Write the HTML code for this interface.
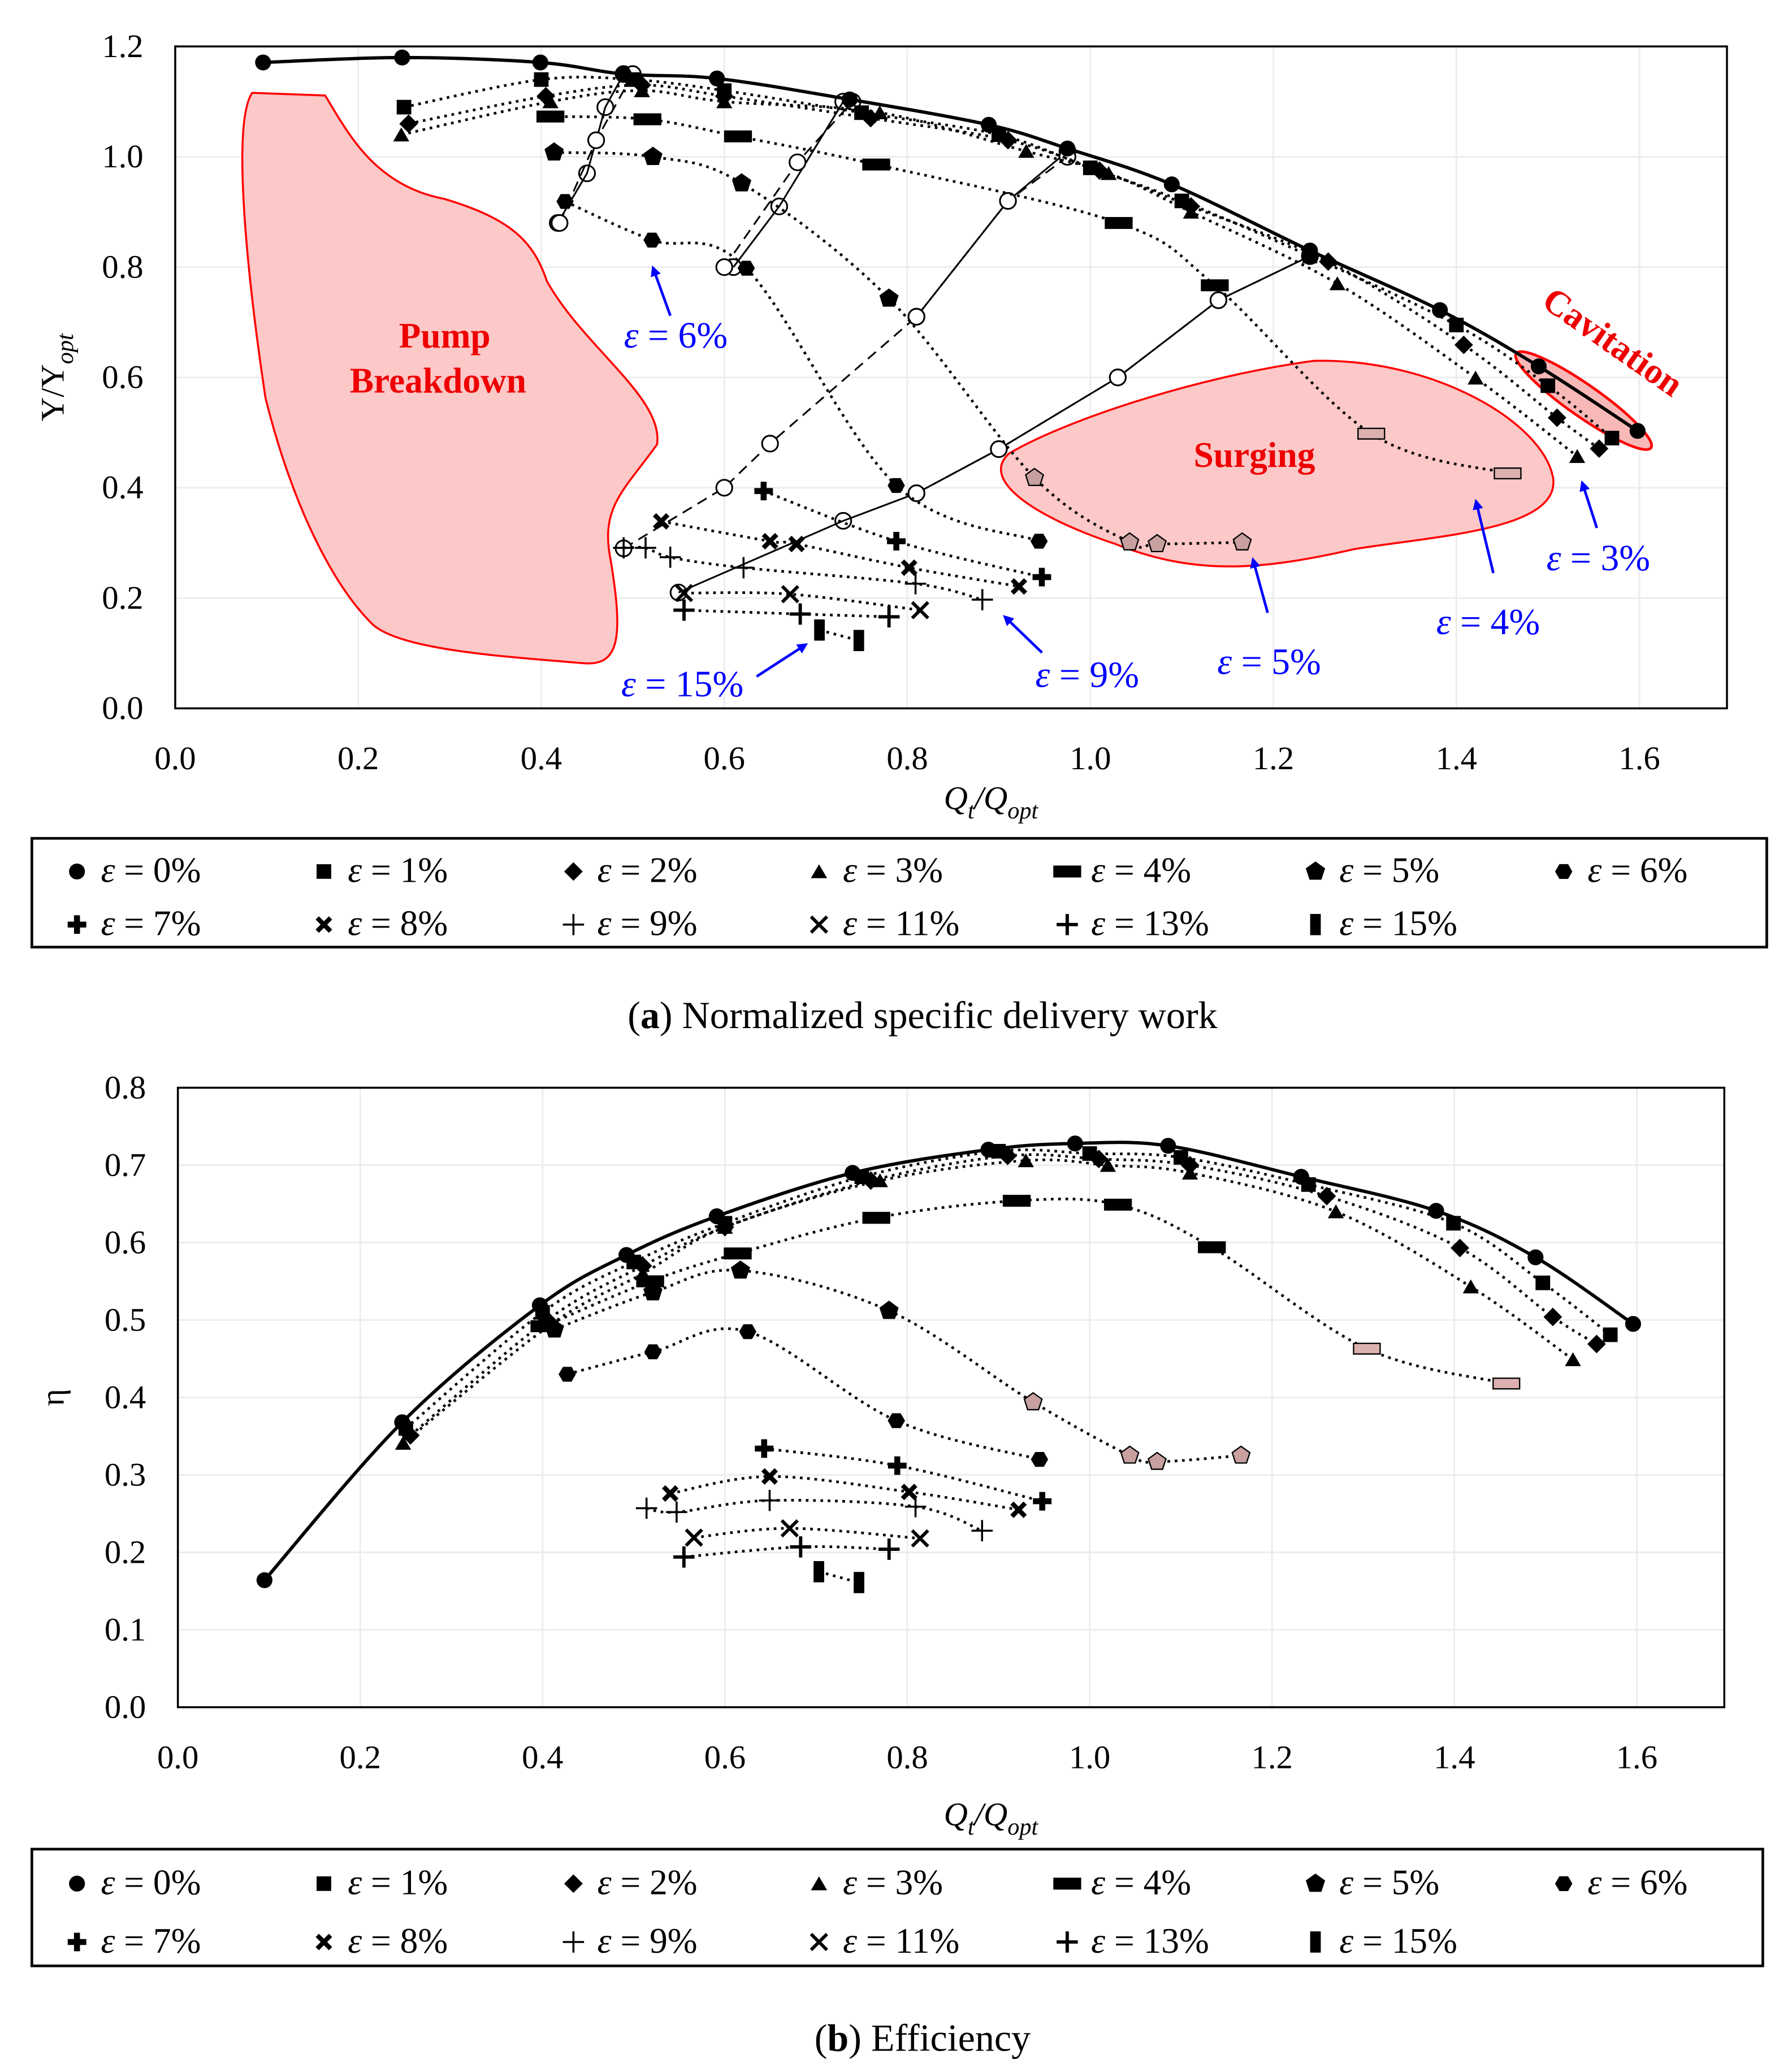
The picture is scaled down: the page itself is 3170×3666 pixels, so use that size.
<!DOCTYPE html>
<html><head><meta charset="utf-8">
<style>
html,body{margin:0;padding:0;background:#fff;}
svg{display:block;}
text{font-family:"Liberation Serif",serif;}
</style></head>
<body>
<svg id="chart" width="3170" height="3666" viewBox="0 0 1350 1562" preserveAspectRatio="none" xmlns="http://www.w3.org/2000/svg">
<rect x="0" y="0" width="1350" height="1562" fill="#fff"/>
<g id="grid"></g>
<path d="M190,70 L245,72 C262,100 282,140 335,150 C385,165 402,182 412,212 C440,262 500,300 495,335 C470,370 452,382 460,422 C470,482 466,502 440,500 C380,495 300,490 280,470 C250,440 220,380 200,300 C185,200 175,92 190,70 Z" fill="#fcc8c8" stroke="#f00" stroke-width="1.5"/>
<path d="M760,342 C800,318 900,284 990,272 C1080,270 1162,318 1170,360 C1176,400 1080,404 1020,414 C950,430 900,434 840,410 C780,390 738,362 760,342 Z" fill="#fcc8c8" stroke="#f00" stroke-width="1.5"/>
<ellipse cx="1193" cy="302" rx="62" ry="12" transform="rotate(35 1193 302)" fill="#f8b8b8" stroke="#f00" stroke-width="2"/>
<g id="topchart"></g>
<g id="botchart"></g>
<g id="ann"></g>
</svg>
<script>
const seriesNames = ['ε = 0%','ε = 1%','ε = 2%','ε = 3%','ε = 4%','ε = 5%','ε = 6%','ε = 7%','ε = 8%','ε = 9%','ε = 11%','ε = 13%','ε = 15%'];
const seriesMarkers = ['circle','square','diamond','triangle','wide','pentagon','hexagon','boldplus','boldx','thinplus','x','plus','vbar'];
const xTicks = [0.0,0.2,0.4,0.6,0.8,1.0,1.2,1.4,1.6];
const yTicksTop = [0.0,0.2,0.4,0.6,0.8,1.0,1.2];
const yTicksBot = [0.0,0.1,0.2,0.3,0.4,0.5,0.6,0.7,0.8];

const topX0=[0.096,0.248,0.399,0.49,0.592,0.737,0.889,0.975,1.089,1.24,1.382,1.490,1.598];
const topY0=[1.171,1.18,1.171,1.15,1.142,1.104,1.058,1.015,0.950,0.83,0.722,0.620,0.503];
const topX1=[0.25,0.40,0.50,0.60,0.75,0.90,1.0,1.1,1.24,1.40,1.50,1.57];
const topY1=[1.09,1.14,1.14,1.12,1.08,1.04,0.98,0.92,0.82,0.695,0.585,0.49];
const topX2=[0.255,0.405,0.51,0.60,0.76,0.91,1.01,1.11,1.26,1.408,1.51,1.556];
const topY2=[1.06,1.11,1.13,1.11,1.07,1.03,0.975,0.91,0.81,0.659,0.527,0.471];
const topX3=[0.247,0.41,0.51,0.60,0.77,0.93,1.02,1.11,1.27,1.421,1.532];
const topY3=[1.04,1.10,1.12,1.10,1.08,1.01,0.97,0.90,0.77,0.599,0.457];
const topX4=[0.41,0.516,0.615,0.766,1.031,1.136,1.307,1.456];
const topY4=[1.073,1.068,1.037,0.986,0.880,0.767,0.498,0.426];
const topX5=[0.414,0.522,0.619,0.78,0.939,1.043,1.073,1.166];
const topY5=[1.008,1.0,0.952,0.743,0.418,0.301,0.298,0.301];
const topX6=[0.426,0.521,0.624,0.788,0.944];
const topY6=[0.919,0.849,0.798,0.404,0.303];
const topX7=[0.643,0.788,0.947];
const topY7=[0.394,0.303,0.238];
const topX8=[0.531,0.65,0.679,0.802,0.922];
const topY8=[0.339,0.303,0.298,0.255,0.221];
const topX9=[0.49,0.514,0.541,0.621,0.809,0.882];
const topY9=[0.291,0.291,0.274,0.255,0.226,0.197];
const topX11=[0.556,0.672,0.814];
const topY11=[0.209,0.207,0.178];
const topX13=[0.556,0.683,0.780];
const topY13=[0.178,0.171,0.166];
const topX15=[0.704,0.747];
const topY15=[0.142,0.123];

const isoSolidX=[[0.418,0.45,0.47,0.49],[0.61,0.66,0.73],[0.81,0.91,0.975],[0.55,0.73,0.81,0.90,1.03,1.14,1.24]];
const isoSolidY=[[0.88,0.97,1.09,1.15],[0.80,0.91,1.10],[0.71,0.92,1.01],[0.21,0.34,0.39,0.47,0.60,0.74,0.82]];
const isoDashX=[[0.42,0.46,0.50],[0.60,0.68,0.74],[0.49,0.60,0.65,0.81,0.91,0.975],[0.81,0.90,1.03,1.14,1.24]];
const isoDashY=[[0.88,1.03,1.15],[0.80,0.99,1.10],[0.29,0.40,0.48,0.71,0.92,1.0],[0.39,0.47,0.60,0.74,0.82]];

const botX0=[0.095,0.246,0.397,0.492,0.591,0.74,0.889,0.984,1.086,1.232,1.380,1.489,1.596];
const botY0=[0.164,0.368,0.519,0.584,0.634,0.69,0.720,0.728,0.725,0.685,0.641,0.581,0.495];
const botX1=[0.25,0.40,0.50,0.60,0.75,0.90,1.0,1.1,1.24,1.399,1.497,1.571];
const botY1=[0.36,0.51,0.575,0.625,0.685,0.718,0.715,0.71,0.675,0.625,0.548,0.481];
const botX2=[0.255,0.405,0.51,0.60,0.76,0.91,1.01,1.11,1.26,1.406,1.508,1.556];
const botY2=[0.351,0.50,0.57,0.62,0.68,0.712,0.708,0.70,0.66,0.593,0.504,0.469];
const botX3=[0.247,0.41,0.51,0.60,0.77,0.93,1.02,1.11,1.27,1.418,1.53];
const botY3=[0.341,0.495,0.56,0.62,0.68,0.706,0.70,0.69,0.64,0.543,0.449];
const botX4=[0.402,0.518,0.614,0.766,0.92,1.031,1.134,1.304,1.457];
const botY4=[0.492,0.550,0.586,0.632,0.654,0.649,0.594,0.463,0.418];
const botX5=[0.413,0.521,0.617,0.780,0.938,1.044,1.074,1.166];
const botY5=[0.488,0.536,0.564,0.512,0.394,0.325,0.317,0.325];
const botX6=[0.427,0.521,0.625,0.788,0.945];
const botY6=[0.430,0.459,0.485,0.370,0.320];
const botX7=[0.643,0.789,0.948];
const botY7=[0.334,0.312,0.266];
const botX8=[0.540,0.649,0.802,0.922];
const botY8=[0.276,0.298,0.278,0.255];
const botX9=[0.514,0.547,0.649,0.809,0.882];
const botY9=[0.257,0.252,0.267,0.259,0.228];
const botX11=[0.566,0.671,0.814];
const botY11=[0.219,0.231,0.218];
const botX13=[0.555,0.683,0.780];
const botY13=[0.194,0.207,0.204];
const botX15=[0.703,0.747];
const botY15=[0.175,0.161];

const topXs=[topX0,topX1,topX2,topX3,topX4,topX5,topX6,topX7,topX8,topX9,topX11,topX13,topX15];
const topYs=[topY0,topY1,topY2,topY3,topY4,topY5,topY6,topY7,topY8,topY9,topY11,topY13,topY15];
const botXs=[botX0,botX1,botX2,botX3,botX4,botX5,botX6,botX7,botX8,botX9,botX11,botX13,botX15];
const botYs=[botY0,botY1,botY2,botY3,botY4,botY5,botY6,botY7,botY8,botY9,botY11,botY13,botY15];

const NS='http://www.w3.org/2000/svg';
function mk(tag,attrs,parent){const e=document.createElementNS(NS,tag);for(const k in attrs)e.setAttribute(k,attrs[k]);parent.appendChild(e);return e;}
function smooth(pts){
  if(pts.length<2)return '';
  let d='M'+pts[0][0]+','+pts[0][1];
  for(let i=0;i<pts.length-1;i++){
    const p0=pts[i-1]||pts[i],p1=pts[i],p2=pts[i+1],p3=pts[i+2]||p2;
    const c1=[p1[0]+(p2[0]-p0[0])/6,p1[1]+(p2[1]-p0[1])/6];
    const c2=[p2[0]-(p3[0]-p1[0])/6,p2[1]-(p3[1]-p1[1])/6];
    d+=' C'+c1[0]+','+c1[1]+' '+c2[0]+','+c2[1]+' '+p2[0]+','+p2[1];
  }
  return d;
}
function poly(n,r,cx,cy,rot){let p=[];for(let i=0;i<n;i++){const a=rot+i*2*Math.PI/n;p.push((cx+r*Math.cos(a)).toFixed(1)+','+(cy+r*Math.sin(a)).toFixed(1));}return p.join(' ');}
function marker(type,cx,cy,g,fill){
  fill=fill||'#000';
  const s=fill==='#000'?'none':'#000';
  let e;
  switch(type){
    case 'circle':e=mk('circle',{cx:cx,cy:cy,r:6,fill:fill,stroke:s},g);break;
    case 'square':e=mk('rect',{x:cx-5.5,y:cy-5.5,width:11,height:11,fill:fill,stroke:s},g);break;
    case 'diamond':e=mk('polygon',{points:poly(4,7,cx,cy,0),fill:fill,stroke:s},g);break;
    case 'triangle':e=mk('polygon',{points:poly(3,7,cx,cy+1.5,-Math.PI/2),fill:fill,stroke:s},g);break;
    case 'wide':e=mk('rect',{x:cx-10,y:cy-4,width:20,height:8,fill:fill,stroke:'#000','stroke-width':1},g);break;
    case 'pentagon':e=mk('polygon',{points:poly(5,7,cx,cy,-Math.PI/2),fill:fill,stroke:'#000'},g);break;
    case 'hexagon':e=mk('polygon',{points:poly(6,6.5,cx,cy,0),fill:fill,stroke:s},g);break;
    case 'boldplus':e=mk('path',{d:`M${cx-7},${cy}H${cx+7}M${cx},${cy-7}V${cy+7}`,stroke:'#000','stroke-width':4.5},g);break;
    case 'boldx':e=mk('path',{d:`M${cx-5},${cy-5}L${cx+5},${cy+5}M${cx-5},${cy+5}L${cx+5},${cy-5}`,stroke:'#000','stroke-width':3.5},g);break;
    case 'thinplus':e=mk('path',{d:`M${cx-8},${cy}H${cx+8}M${cx},${cy-8}V${cy+8}`,stroke:'#000','stroke-width':1.5},g);break;
    case 'x':e=mk('path',{d:`M${cx-6},${cy-6}L${cx+6},${cy+6}M${cx-6},${cy+6}L${cx+6},${cy-6}`,stroke:'#000','stroke-width':2.5},g);break;
    case 'plus':e=mk('path',{d:`M${cx-8},${cy}H${cx+8}M${cx},${cy-8}V${cy+8}`,stroke:'#000','stroke-width':2.5},g);break;
    case 'vbar':e=mk('rect',{x:cx-4,y:cy-8,width:8,height:16,fill:'#000'},g);break;
  }
  return e;
}
const gridG=document.getElementById('grid');
function drawGrid(X,Y,yTicks,x0,x1,y0,y1){
  xTicks.forEach(v=>{const l=mk('line',{x1:X(v),x2:X(v),y1:y0,y2:y1,stroke:'#ececec','stroke-width':1.2},gridG);
    
    });
  yTicks.forEach(v=>{const l=mk('line',{x1:x0,x2:x1,y1:Y(v),y2:Y(v),stroke:'#ececec','stroke-width':1.2},gridG);
    
    });
}
function drawAxes(g,X,Y,yTicks,x0,x1,y0,y1,xlabY,isTop){
  const fr=mk('rect',{x:x0,y:y0,width:x1-x0,height:y1-y0,fill:'none',stroke:'#000','stroke-width':1.5},g);
  
  
  xTicks.forEach(v=>{const t=mk('text',{x:X(v),y:y1+46,'font-size':25,'text-anchor':'middle'},g);t.textContent=v.toFixed(1);
    
    });
  yTicks.forEach(v=>{const t=mk('text',{x:x0-24,y:Y(v)+8,'font-size':25,'text-anchor':'end'},g);t.textContent=v.toFixed(1);
    
    });
  const xl=mk('text',{x:(x0+x1)/2+30,y:xlabY,'font-size':25,'text-anchor':'middle','font-style':'italic'},g);
  xl.innerHTML='Q<tspan font-size="18" dy="7">t</tspan><tspan dy="-7">/Q</tspan><tspan font-size="18" dy="7">opt</tspan>';
  
  
  const cy=(y0+y1)/2;
  const yl=mk('text',{x:48,y:cy,'font-size':25,'text-anchor':'middle',transform:`rotate(-90 48 ${cy})`},g);
  if(isTop) yl.innerHTML='Υ/Υ<tspan font-size="18" dy="7" font-style="italic">opt</tspan>'; else yl.textContent='η';
  
  
}
function drawSeries(g,X,Y,xs,ys){
  xs.forEach((xa,si)=>{
    const sg=mk('g',{},g);
    
    
    const pts=xa.map((v,i)=>[X(v),Y(ys[si][i])]);
    const ln=mk('path',{d:smooth(pts),fill:'none',stroke:'#000','stroke-width':si===0?2.5:2,'stroke-dasharray':si===0?'none':'2 3.5'},sg);
    
    
    pts.forEach(p=>{
      let fill='#000';
      if(si===5 && p[0]>X(0.93)) fill='#c8a0a0';
      if(si===4 && p[0]>X(1.28)) fill='#ddb0b0';
      const m=marker(seriesMarkers[si],p[0],p[1],sg,fill);
      
      
    });
  });
}
function drawLegend(g,x,y,w,h,rowY){
  const r=mk('rect',{x:x,y:y,width:w,height:h,fill:'#fff',stroke:'#000','stroke-width':2},g);
  
  
  const cols=[58,244,432,617,804,991,1178];
  seriesNames.forEach((n,i)=>{
    const row=i<7?0:1,col=i%7;
    const lg=mk('g',{},g);
    
    
    marker(seriesMarkers[i],cols[col],rowY[row]-8,lg);
    const t=mk('text',{x:cols[col]+18,y:rowY[row],'font-size':27},lg);
    t.innerHTML='<tspan font-style="italic">ε</tspan> = '+n.split('= ')[1];
  });
}

const topG=document.getElementById('topchart');
const TX=v=>132+v*689.4, TY=v=>534-v*415.8;
drawGrid(TX,TY,yTicksTop,132,1301,35,534);
drawAxes(topG,TX,TY,yTicksTop,132,1301,35,534,610,true);
isoSolidX.forEach((xa,i)=>{
  const l=mk('polyline',{points:xa.map((v,j)=>TX(v)+','+TY(isoSolidY[i][j])).join(' '),fill:'none',stroke:'#000','stroke-width':1.3},topG);
  
  
  xa.forEach((v,j)=>{const c=mk('circle',{cx:TX(v),cy:TY(isoSolidY[i][j]),r:6,fill:'none',stroke:'#000','stroke-width':1.3},topG);
    
    });
});
isoDashX.forEach((xa,i)=>{
  const l=mk('polyline',{points:xa.map((v,j)=>TX(v)+','+TY(isoDashY[i][j])).join(' '),fill:'none',stroke:'#000','stroke-width':1.3,'stroke-dasharray':'8 5'},topG);
  
  
  xa.forEach((v,j)=>{const c=mk('circle',{cx:TX(v),cy:TY(isoDashY[i][j]),r:6,fill:'#fff',stroke:'#000','stroke-width':1.3},topG);
    
    });
});
drawSeries(topG,TX,TY,topXs,topYs);
drawLegend(topG,24,632,1307,82,[665,705]);
const capA=mk('text',{x:695,y:775,'font-size':29,'text-anchor':'middle'},topG);
capA.innerHTML='(<tspan font-weight="bold">a</tspan>) Normalized specific delivery work';



const botG=document.getElementById('botchart');
const BX=v=>134+v*686.9, BY=v=>1287-v*583.75;
drawGrid(BX,BY,yTicksBot,134,1299,820,1287);
drawAxes(botG,BX,BY,yTicksBot,134,1299,820,1287,1376,false);
drawSeries(botG,BX,BY,botXs,botYs);
drawLegend(botG,24,1394,1304,88,[1428,1472]);
const capB=mk('text',{x:695,y:1546,'font-size':29,'text-anchor':'middle'},botG);
capB.innerHTML='(<tspan font-weight="bold">b</tspan>) Efficiency';



const ann=document.getElementById('ann');
function lab(x,y,html,name,opts){const t=mk('text',Object.assign({x:x,y:y,'font-size':28},opts||{}),ann);t.innerHTML=html;
  
  
  return t;}
lab(335,262,'Pump','label-pump',{fill:'#e00','font-weight':'bold','text-anchor':'middle','font-size':27});
lab(330,296,'Breakdown','label-breakdown',{fill:'#e00','font-weight':'bold','text-anchor':'middle','font-size':27});
lab(945,352,'Surging','label-surging',{fill:'#e00','font-weight':'bold','text-anchor':'middle','font-size':27});
lab(1210,265,'Cavitation','label-cavitation',{fill:'#e00','font-weight':'bold','text-anchor':'middle','font-size':27,transform:'rotate(35 1210 265)'});
const defs=mk('defs',{},ann);
const mkr=mk('marker',{id:'ah',markerWidth:8,markerHeight:8,refX:6,refY:4,orient:'auto',markerUnits:'userSpaceOnUse'},defs);
mk('path',{d:'M0,0 L8,4 L0,8 Z',fill:'#00f'},mkr);
const ae=[['ε = 6%',470,262,[505,238],[492,202]],['ε = 3%',1165,430,[1203,398],[1192,364]],['ε = 4%',1082,478,[1125,432],[1112,378]],
          ['ε = 5%',917,508,[955,462],[944,422]],['ε = 9%',780,518,[785,492],[757,465]],['ε = 15%',468,525,[570,510],[607,486]]];
ae.forEach(a=>{
  lab(a[1],a[2],'<tspan font-style="italic">ε</tspan> = '+a[0].split('= ')[1],'annotation-label',{fill:'#00f'});
  const l=mk('line',{x1:a[3][0],y1:a[3][1],x2:a[4][0],y2:a[4][1],stroke:'#00f','stroke-width':2,'marker-end':'url(#ah)'},ann);
  
  
});
</script>
</body></html>
